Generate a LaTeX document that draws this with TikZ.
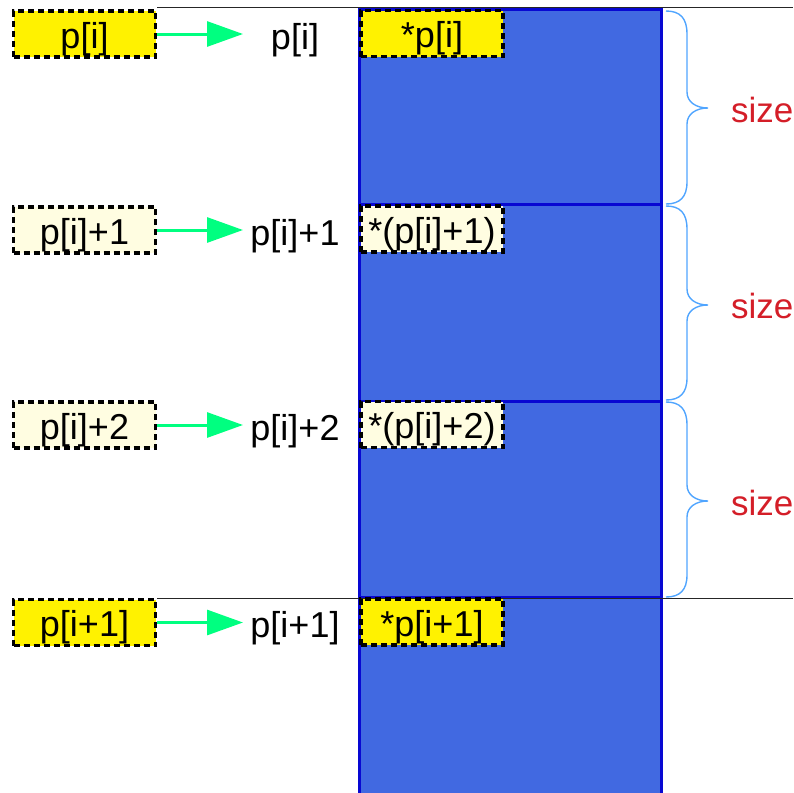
\documentclass[tikz,border=0pt]{standalone}
\usepackage{fontspec}
\setmainfont{Liberation Sans}
\usetikzlibrary{arrows.meta}
\definecolor{rblue}{RGB}{65,105,225}
\definecolor{dblue}{RGB}{8,8,210}
\definecolor{sgreen}{RGB}{0,255,128}
\definecolor{lyellow}{RGB}{255,253,225}
\definecolor{bracec}{RGB}{80,165,255}
\definecolor{sred}{RGB}{212,30,40}
\tikzset{
  txt/.style={font=\fontsize{36}{42}\selectfont, text height=29pt, text depth=1pt, inner sep=0pt},
  cellbox/.style={txt, draw=black, line width=3.5pt, dash pattern=on 6pt off 4pt,
    minimum width=142pt, minimum height=46pt},
  cellY/.style={cellbox, fill=yellow},
  cellL/.style={cellbox, fill=lyellow},
  garrow/.style={draw=sgreen, line width=3pt, -{Triangle[length=36pt,width=25pt]}},
  memline/.style={draw=dblue, line width=3pt},
  thinline/.style={draw=black!85, line width=1pt},
  bracestyle/.style={draw=bracec, line width=1.4pt},
  sizelbl/.style={font=\fontsize{35}{42}\selectfont, text=sred, inner sep=0pt, anchor=base west},
}
\begin{document}
\begin{tikzpicture}[x=1pt,y=-1pt]
\useasboundingbox (0,0) rectangle (793,793);
\clip (0,0) rectangle (793,793);
% memory block
\fill[rblue] (359.5,9.5) rectangle (661.5,800);
\draw[memline] (359.5,800) -- (359.5,9.5) -- (661.5,9.5) -- (661.5,800);
\draw[memline] (359.5,204) -- (661.5,204);
\draw[memline] (359.5,401) -- (661.5,401);
\draw[memline] (359.5,597) -- (661.5,597);
% thin reference lines
\draw[thinline] (157,7) -- (793,7);
\draw[thinline] (157,598) -- (793,598);
% left pointer boxes
\node[cellY] (a1) at (84.5,34) {p[i]};
\node[cellL] (a2) at (84.5,230) {p[i]+1};
\node[cellL] (a3) at (84.5,425) {p[i]+2};
\node[cellY] (a4) at (84.5,622.5) {p[i+1]};
% arrow end points
\coordinate (e1) at (243,34);
\coordinate (e2) at (243,230);
\coordinate (e3) at (243,425);
\coordinate (e4) at (243,622.5);
\draw[garrow] (a1.east) -- (e1);
\draw[garrow] (a2.east) -- (e2);
\draw[garrow] (a3.east) -- (e3);
\draw[garrow] (a4.east) -- (e4);
% labels
\node[txt] (l1) at (295,35) {p[i]};
\node[txt] (l2) at (295,231) {p[i]+1};
\node[txt] (l3) at (295,426) {p[i]+2};
\node[txt] (l4) at (295,623) {p[i+1]};
% inner value boxes
\node[cellY] (v1) at (432,33.5) {*p[i]};
\node[cellL] (v2) at (432,229) {*(p[i]+1)};
\node[cellL] (v3) at (432,424.5) {*(p[i]+2)};
\node[cellY] (v4) at (432,622) {*p[i+1]};
% braces
\draw[bracestyle] (666,11) .. controls (680,11) and (687,18) .. (687,34) -- (687,92) .. controls (687,102) and (696,108) .. (708,108) .. controls (696,108) and (687,114) .. (687,124) -- (687,182) .. controls (687,197) and (680,204) .. (666,204);
\draw[bracestyle] (666,206) .. controls (680,206) and (687,213) .. (687,229) -- (687,289) .. controls (687,299) and (696,305) .. (708,305) .. controls (696,305) and (687,311) .. (687,321) -- (687,378) .. controls (687,393) and (680,400) .. (666,400);
\draw[bracestyle] (666,402) .. controls (680,402) and (687,409) .. (687,425) -- (687,485) .. controls (687,495) and (696,501) .. (708,501) .. controls (696,501) and (687,507) .. (687,517) -- (687,575) .. controls (687,590) and (680,597) .. (666,597);
% size labels
\node[sizelbl] (s1) at (731,122) {size};
\node[sizelbl] (s2) at (731,318) {size};
\node[sizelbl] (s3) at (731,515) {size};
\end{tikzpicture}
\end{document}
